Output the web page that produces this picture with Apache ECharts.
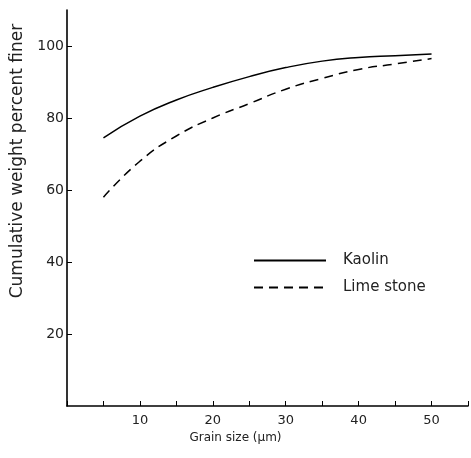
<!DOCTYPE html>
<html>
<head>
<meta charset="utf-8">
<script src="https://cdn.jsdelivr.net/npm/echarts@6/dist/echarts.min.js"></script>
<style>
  html, body { margin: 0; padding: 0; background: #fff; }
  #chart { width: 471px; height: 458px; }
</style>
</head>
<body>
<div id="chart"></div>
<script>
// grain size (um)
var grainSize = [5, 10, 15, 20, 25, 30, 35, 40, 45, 50];
// cumulative weight percent finer
var kaolin = [74.5, 80.5, 85, 88.5, 91.5, 94, 95.8, 96.8, 97.3, 97.8];
var limeStone = [58, 68, 75, 80, 84, 88, 91, 93.5, 95, 96.5];
var xLabels = [10, 20, 30, 40, 50];
var yLabels = [20, 40, 60, 80, 100];

function pairs(xs, ys) {
  return xs.map(function (x, i) { return [x, ys[i]]; });
}

var textColor = '#222';
var font = 'DejaVu Sans';

var myChart = echarts.init(document.getElementById('chart'));
myChart.setOption({
  backgroundColor: '#fff',
  animation: false,
  grid: { left: 67, right: 3, top: 10, bottom: 52 },
  legend: {
    orient: 'vertical',
    left: 248,
    top: 248,
    itemWidth: 72,
    itemHeight: 10,
    itemGap: 12,
    itemStyle: { opacity: 0 },
    textStyle: { color: textColor, fontFamily: font, fontSize: 15, padding: [0, 0, 0, 12] },
    data: ['Kaolin', 'Lime stone']
  },
  xAxis: {
    type: 'value',
    min: 0,
    max: 55,
    interval: 5,
    name: 'Grain size (\u03bcm)',
    nameLocation: 'middle',
    nameGap: 22,
    nameTextStyle: { color: textColor, fontFamily: font, fontSize: 12, padding: [0, 64, 0, 0] },
    axisLine: { lineStyle: { color: '#000', width: 1.6 } },
    axisTick: { inside: true, length: 5, lineStyle: { color: '#000' } },
    axisLabel: {
      color: textColor, fontFamily: font, fontSize: 13, margin: 8,
      customValues: xLabels
    },
    splitLine: { show: false }
  },
  yAxis: {
    type: 'value',
    min: 0,
    max: 110,
    interval: 10,
    name: 'Cumulative weight percent finer',
    nameLocation: 'middle',
    nameGap: 38,
    nameTextStyle: { color: textColor, fontFamily: font, fontSize: 17, padding: [0, 0, 0, 94] },
    axisLine: { lineStyle: { color: '#000', width: 1.6 } },
    axisTick: { inside: true, length: 5, lineStyle: { color: '#000' }, customValues: yLabels },
    axisLabel: {
      color: textColor, fontFamily: font, fontSize: 14, margin: 3,
      customValues: yLabels
    },
    splitLine: { show: false }
  },
  series: [
    {
      name: 'Kaolin',
      type: 'line',
      smooth: true,
      symbol: 'none',
      lineStyle: { color: '#000', width: 1.5, type: 'solid' },
      itemStyle: { color: '#000' },
      data: pairs(grainSize, kaolin)
    },
    {
      name: 'Lime stone',
      type: 'line',
      smooth: true,
      symbol: 'none',
      lineStyle: { color: '#000', width: 1.5, type: [9, 6] },
      itemStyle: { color: '#000' },
      data: pairs(grainSize, limeStone)
    }
  ]
});
window.addEventListener('resize', function () { myChart.resize(); });
</script>
</body>
</html>
